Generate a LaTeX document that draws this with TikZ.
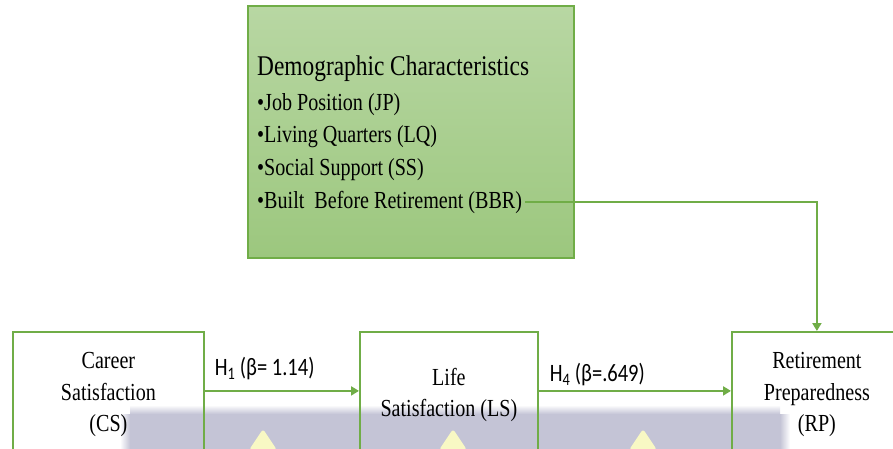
\documentclass[tikz,border=0pt]{standalone}
\usepackage{fontspec}
\setmainfont{Liberation Serif}[FakeStretch=0.82]
\newfontfamily\labelfont{Carlito}[FakeStretch=0.82]
\usetikzlibrary{arrows.meta}
\definecolor{boxgreen}{RGB}{112,173,71}
\definecolor{filltop}{RGB}{184,215,163}
\definecolor{fillbottom}{RGB}{156,199,126}
\definecolor{band}{RGB}{196,196,214}
\definecolor{glow}{RGB}{248,248,196}

\begin{document}
\begin{tikzpicture}[x=1pt, y=-1pt,
    demobox/.style={draw=boxgreen, line width=2.2pt, top color=filltop, bottom color=fillbottom,
      anchor=north west, minimum width=326pt, minimum height=252pt},
    demotext/.style={anchor=base west, inner sep=0pt, font=\fontsize{24.5}{28}\selectfont},
    factor/.style={draw=boxgreen, line width=1.8pt, anchor=north west, minimum height=126pt,
      align=center, font=\fontsize{24.5}{31.5}\selectfont},
    link/.style={draw=boxgreen, line width=2pt, -{Triangle[length=8pt,width=9pt]}},
    beta/.style={anchor=base west, inner sep=0pt, font=\labelfont\fontsize{25}{28}\selectfont}]
    \useasboundingbox (0,0) rectangle (893,448);
    \clip (0,0) rectangle (893,448);

    \fill[band] (130,414) rectangle (780,449);
    \shade[top color=white, bottom color=band] (130,405) rectangle (780,414);
    \shade[left color=white, right color=band] (120,414) rectangle (130,449);
    \shade[left color=band, right color=white] (780,414) rectangle (790,449);
    \foreach \x in {263,453,643}
      \fill[glow, rounded corners=3pt] (\x,429) -- (\x+14,450) -- (\x-14,450) -- cycle;

    \node[demobox] (demo) at (247,5) {};
    \node[demotext, font=\fontsize{28.5}{32}\selectfont] (title) at (257,75) {Demographic Characteristics};
    \node[demotext] (jp) at (257,110) {•Job Position (JP)};
    \node[demotext] (lq) at (257,142) {•Living Quarters (LQ)};
    \node[demotext] (ss) at (257,175) {•Social Support (SS)};
    \node[demotext] (bbr) at (257,208) {•Built~ Before Retirement (BBR)};

    \node[factor, minimum width=191pt] (cs) at (12,331) {Career\\Satisfaction\\(CS)};
    \node[factor, minimum width=178pt] (ls) at (359,331) {Life\\Satisfaction (LS)};
    \node[factor, minimum width=170pt] (rp) at (731,331) {Retirement\\Preparedness\\(RP)};

    \draw[link] ([yshift=4pt]cs.east) -- node[beta, at start, xshift=9pt, yshift=15pt] (h1) {H\textsubscript{1} (β= 1.14)} ([yshift=4pt]ls.west);
    \draw[link] ([yshift=4pt]ls.east) -- node[beta, at start, xshift=10pt, yshift=9pt] (h4) {H\textsubscript{4} (β=.649)} ([yshift=4pt]rp.west);
    \draw[link] ([xshift=3pt]bbr.east) -| (rp.north);
\end{tikzpicture}
\end{document}
